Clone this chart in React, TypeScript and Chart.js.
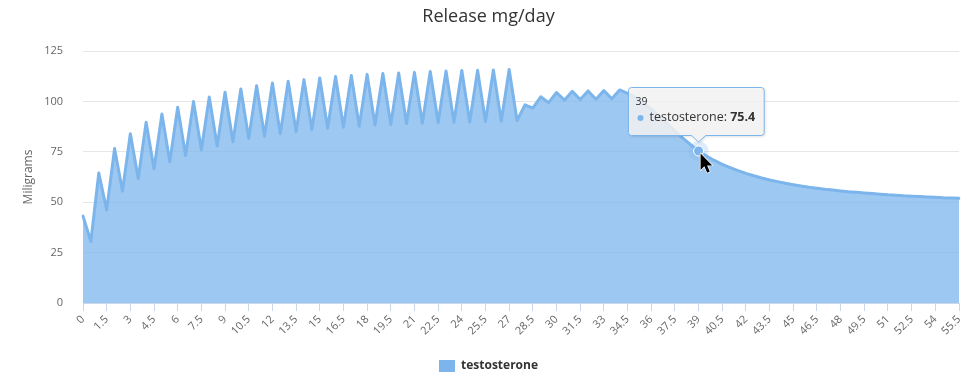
import React, { useEffect, useRef } from 'react';
import { Chart, registerables } from 'chart.js';

Chart.register(...registerables);

const chartTitle = 'Release mg/day';
const yAxisTitle = 'Miligrams';
const seriesName = 'testosterone';

// x categories: day 0 .. 55.5 every half day
const days: number[] = Array.from({ length: 112 }, (_, i) => i / 2);
const categories: string[] = days.map((d) => String(d));

// series values
const testosterone: number[] = [
  43.1, 30.5, 64.5, 46.1, 76.6, 55.5, 84.0, 61.6, 89.7, 66.5,
  93.8, 70.0, 97.1, 73.2, 99.9, 76.0, 102.2, 77.9, 104.5, 80.0,
  106.2, 81.6, 107.8, 82.7, 109.1, 83.9, 110.0, 85.0, 110.8, 86.0,
  111.6, 86.7, 112.3, 87.2, 112.9, 87.7, 113.4, 88.3, 113.8, 88.5,
  114.1, 89.0, 114.4, 89.2, 114.8, 89.5, 115.1, 89.7, 115.3, 89.8,
  115.4, 90.0, 115.6, 90.2, 115.8, 90.5, 98.3, 96.7, 102.3, 99.4,
  104.4, 100.6, 105.0, 100.9, 105.2, 101.1, 105.4, 101.3, 105.7, 104.0,
  102.0, 99.3, 96.2, 92.7, 89.0, 85.3, 81.8, 78.5, 75.4, 72.9,
  70.7, 68.8, 67.2, 65.7, 64.3, 63.1, 62.0, 61.0, 60.2, 59.4,
  58.7, 58.0, 57.4, 56.9, 56.4, 56.0, 55.6, 55.2, 54.9, 54.6,
  54.3, 54.0, 53.7, 53.5, 53.2, 53.0, 52.8, 52.6, 52.4, 52.2,
  52.1, 51.9,
];

const yMin = 0;
const yMax = 125;
const yStep = 25;
const labelEvery = 3; // a tick label every 1.5 days
const hoveredDay = 39;

const seriesColor = '#7cb5ec';
const fontFamily = '"Open Sans", "Noto Sans", sans-serif';

const hoverPlugin = {
  id: 'hoverTip',
  afterDatasetsDraw(chart: any) {
    const idx = days.indexOf(hoveredDay);
    const pt = chart.getDatasetMeta(0).data[idx];
    if (!pt) return;
    const { x, y } = pt.getProps(['x', 'y'], true);
    const ctx = chart.ctx;
    ctx.save();
    ctx.beginPath();
    ctx.arc(x, y, 10, 0, Math.PI * 2);
    ctx.fillStyle = 'rgba(124,181,236,0.25)';
    ctx.fill();
    ctx.beginPath();
    ctx.arc(x, y, 5, 0, Math.PI * 2);
    ctx.fillStyle = seriesColor;
    ctx.fill();
    ctx.lineWidth = 1;
    ctx.strokeStyle = '#ffffff';
    ctx.stroke();
    ctx.restore();
  },
  afterDraw(chart: any) {
    const idx = days.indexOf(hoveredDay);
    const pt = chart.getDatasetMeta(0).data[idx];
    if (!pt) return;
    const { x, y } = pt.getProps(['x', 'y'], true);
    const ctx = chart.ctx;
    const header = categories[idx];
    const name = seriesName + ': ';
    const val = String(testosterone[idx]);
    const bodySize = 12.5;
    ctx.save();
    ctx.font = `${bodySize}px ${fontFamily}`;
    const w1 = ctx.measureText(name).width;
    ctx.font = `bold ${bodySize}px ${fontFamily}`;
    const w2 = ctx.measureText(val).width;
    const boxW = 21 + w1 + w2 + 9;
    const boxH = 48;
    const left = Math.round(x - boxW / 2 - 3) + 0.5;
    const bottom = Math.round(y - 16) + 0.5;
    const top = bottom - boxH;
    const right = left + boxW;
    const r = 3;
    const tipY = y - 9;
    const path = () => {
      ctx.beginPath();
      ctx.moveTo(left + r, top);
      ctx.lineTo(right - r, top);
      ctx.arcTo(right, top, right, top + r, r);
      ctx.lineTo(right, bottom - r);
      ctx.arcTo(right, bottom, right - r, bottom, r);
      ctx.lineTo(x + 7, bottom);
      ctx.lineTo(x, tipY);
      ctx.lineTo(x - 7, bottom);
      ctx.lineTo(left + r, bottom);
      ctx.arcTo(left, bottom, left, bottom - r, r);
      ctx.lineTo(left, top + r);
      ctx.arcTo(left, top, left + r, top, r);
      ctx.closePath();
    };
    ctx.save();
    ctx.shadowColor = 'rgba(0,0,0,0.18)';
    ctx.shadowOffsetX = 1;
    ctx.shadowOffsetY = 1;
    ctx.shadowBlur = 3;
    path();
    ctx.fillStyle = 'rgba(247,247,247,0.85)';
    ctx.fill();
    ctx.restore();
    path();
    ctx.lineWidth = 1;
    ctx.strokeStyle = seriesColor;
    ctx.stroke();

    ctx.textBaseline = 'middle';
    ctx.textAlign = 'left';
    ctx.fillStyle = '#333333';
    ctx.font = `10.5px ${fontFamily}`;
    ctx.fillText(header, left + 7, top + 14.5);
    const by = top + 30;
    ctx.beginPath();
    ctx.arc(left + 12, by + 0.5, 3, 0, Math.PI * 2);
    ctx.fillStyle = seriesColor;
    ctx.fill();
    ctx.fillStyle = '#333333';
    ctx.font = `${bodySize}px ${fontFamily}`;
    ctx.fillText(name, left + 21, by);
    ctx.font = `bold ${bodySize}px ${fontFamily}`;
    ctx.fillText(val, left + 21 + w1, by);

    // mouse cursor
    const cx = x + 2;
    const cy = y + 2.5;
    const pts = [
      [0, 0], [0, 16.5], [3.8, 12.8], [6.6, 19.2], [9.2, 18.1], [6.5, 11.9], [11.7, 11.9],
    ];
    ctx.beginPath();
    pts.forEach(([px, py], i) => {
      if (i === 0) ctx.moveTo(cx + px, cy + py);
      else ctx.lineTo(cx + px, cy + py);
    });
    ctx.closePath();
    ctx.lineJoin = 'round';
    ctx.lineWidth = 1.4;
    ctx.strokeStyle = '#ffffff';
    ctx.stroke();
    ctx.fillStyle = '#000000';
    ctx.fill();
    ctx.restore();
  },
};

export default function App() {
  const canvasRef = useRef<HTMLCanvasElement | null>(null);

  useEffect(() => {
    if (!canvasRef.current) return;
    Chart.defaults.font.family = fontFamily;
    const chart = new Chart(canvasRef.current, {
      type: 'line',
      data: {
        labels: categories,
        datasets: [
          {
            label: seriesName,
            data: testosterone,
            borderColor: seriesColor,
            backgroundColor: 'rgba(124,181,236,0.75)',
            borderWidth: 3,
            borderJoinStyle: 'round',
            borderCapStyle: 'round',
            fill: 'origin',
            tension: 0,
            pointRadius: 0,
            pointHoverRadius: 0,
          },
        ],
      },
      options: {
        responsive: false,
        animation: false,
        events: [],
        layout: { padding: { left: 0, right: 0, top: 0, bottom: 5 } },
        plugins: {
          title: {
            display: true,
            text: chartTitle,
            color: '#333333',
            font: { size: 18, weight: 'normal' },
            padding: { top: 6, bottom: 23.4 },
          },
          legend: {
            display: true,
            position: 'bottom',
            labels: {
              boxWidth: 16,
              boxHeight: 12,
              padding: 10,
              color: '#333333',
              font: { size: 12, weight: 'bold' },
              generateLabels: (c: any) =>
                c.data.datasets.map((ds: any, i: number) => ({
                  text: ds.label,
                  fillStyle: seriesColor,
                  strokeStyle: seriesColor,
                  lineWidth: 0,
                  hidden: false,
                  datasetIndex: i,
                  fontColor: '#333333',
                })),
            },
          },
          tooltip: { enabled: false },
        },
        scales: {
          x: {
            type: 'category',
            offset: false,
            grid: {
              display: true,
              drawOnChartArea: false,
              drawTicks: true,
              tickLength: 8,
              color: '#ccd6eb',
            },
            border: { display: true, color: '#ccd6eb' },
            ticks: {
              autoSkip: false,
              maxRotation: 45,
              minRotation: 45,
              padding: 2,
              color: '#666666',
              font: { size: 11 },
              callback: (_v: any, i: number) => (i % labelEvery === 0 ? categories[i] : null),
            },
            afterFit: (s: any) => {
              s.height = 47;
            },
          },
          y: {
            type: 'linear',
            position: 'left',
            min: yMin,
            max: yMax,
            ticks: {
              stepSize: yStep,
              padding: 20,
              color: '#666666',
              font: { size: 11 },
            },
            grid: { color: '#e6e6e6', drawTicks: false },
            border: { display: false },
            title: {
              display: true,
              text: yAxisTitle,
              color: '#666666',
              font: { size: 12 },
              padding: { top: 21.5, bottom: 0 },
            },
            afterFit: (s: any) => {
              s.width = 83;
            },
          },
          yRight: {
            type: 'linear',
            position: 'right',
            display: true,
            grid: { display: false, drawTicks: false },
            ticks: { display: false },
            border: { display: false },
            afterFit: (s: any) => {
              s.width = 18;
            },
          },
        },
      },
      plugins: [hoverPlugin],
    } as any);
    return () => chart.destroy();
  }, []);

  return (
    <div style={{ position: 'fixed', left: 0, top: 0, width: 977, height: 387, background: '#ffffff' }}>
      <canvas ref={canvasRef} width={977} height={387} />
    </div>
  );
}
